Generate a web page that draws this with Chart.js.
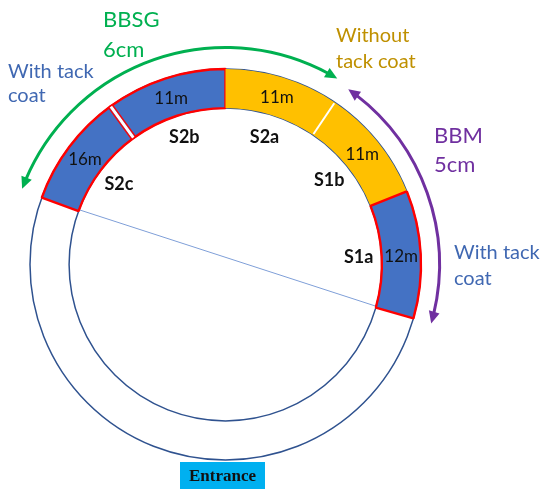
<!DOCTYPE html>
<html>
<head>
<meta charset="utf-8">
<script src="https://cdn.jsdelivr.net/npm/chart.js@4.4.1/dist/chart.umd.min.js"></script>
<style>
  html, body { margin: 0; padding: 0; background: #fff; }
</style>
</head>
<body>
<canvas id="ringChart" width="542" height="489"></canvas>
<script>
// sections of the ring, from the left end going clockwise
const sections = ['S2c', 'S2b', 'S2a', 'S1b', 'S1a'];
const lengths = ['16m', '11m', '11m', '11m', '12m'];
const arcDegrees = [34, 36, 34, 34, 38];
const tackCoat = [true, true, false, false, true];

const restDegrees = 360 - arcDegrees.reduce((a, b) => a + b, 0);

const BLUE = '#4472C4';
const ORANGE = '#FFC000';
const RED = '#FF0000';

const fills = tackCoat.map(t => t ? BLUE : ORANGE);
const borders = tackCoat.map(t => t ? RED : ORANGE);
const borderWidths = tackCoat.map(t => t ? 2.4 : 0);

function deg(a) { return a * Math.PI / 180; }

// math angle (ccw, y up) -> point
function polar(cx, cy, r, a) {
    return { x: cx + r * Math.cos(deg(a)), y: cy - r * Math.sin(deg(a)) };
}

function arcArrow(ctx, cx, cy, r, fromA, toA, color) {
    // fromA > toA (math degrees), drawn clockwise on screen
    const head = 12, half = 5.5;
    const d = head / r * 180 / Math.PI;
    ctx.save();
    ctx.strokeStyle = color;
    ctx.fillStyle = color;
    ctx.lineWidth = 3;
    ctx.beginPath();
    ctx.arc(cx, cy, r, deg(-(fromA - d * 0.8)), deg(-(toA + d * 0.8)), false);
    ctx.stroke();
    [[fromA, 1], [toA, -1]].forEach(([a, s]) => {
        const tip = polar(cx, cy, r, a);
        const base = polar(cx, cy, r, a - s * d);
        const nx = Math.cos(deg(a)), ny = -Math.sin(deg(a));
        ctx.beginPath();
        ctx.moveTo(tip.x, tip.y);
        ctx.lineTo(base.x + nx * half, base.y + ny * half);
        ctx.lineTo(base.x - nx * half, base.y - ny * half);
        ctx.closePath();
        ctx.fill();
    });
    ctx.restore();
}

function text(ctx, str, x, y, font, color, align) {
    ctx.font = font;
    ctx.fillStyle = color;
    ctx.textAlign = align || 'left';
    ctx.fillText(str, x, y);
}

const ringDecor = {
    id: 'ringDecor',
    beforeDatasetsDraw(chart) {
        const ctx = chart.ctx;
        const arcs = chart.getDatasetMeta(0).data;
        const cx = arcs[0].x, cy = arcs[0].y;
        const ro = arcs[0].outerRadius, ri = arcs[0].innerRadius;
        ctx.save();
        // diagonal through the ring ends
        const p1 = { x: cx + ro * Math.cos(arcs[0].startAngle), y: cy + ro * Math.sin(arcs[0].startAngle) };
        const p2 = { x: cx + ro * Math.cos(arcs[4].endAngle), y: cy + ro * Math.sin(arcs[4].endAngle) };
        ctx.strokeStyle = '#7F9FD8';
        ctx.lineWidth = 1;
        ctx.beginPath();
        ctx.moveTo(p1.x, p1.y);
        ctx.lineTo(p2.x, p2.y);
        ctx.stroke();
        // outer and inner circles
        ctx.strokeStyle = '#2F528F';
        ctx.lineWidth = 1.5;
        [ro, ri].forEach(r => {
            ctx.beginPath();
            ctx.arc(cx, cy, r, 0, Math.PI * 2);
            ctx.stroke();
        });
        ctx.restore();
    },
    afterDatasetsDraw(chart) {
        const ctx = chart.ctx;
        const arcs = chart.getDatasetMeta(0).data;
        const cx = arcs[0].x, cy = arcs[0].y;
        const ro = arcs[0].outerRadius, ri = arcs[0].innerRadius;
        ctx.save();

        // white joint between the two orange pieces
        const a1 = arcs[2].endAngle;
        ctx.strokeStyle = '#fff';
        ctx.lineWidth = 2;
        ctx.beginPath();
        ctx.moveTo(cx + (ri + 1) * Math.cos(a1), cy + (ri + 1) * Math.sin(a1));
        ctx.lineTo(cx + (ro - 1) * Math.cos(a1), cy + (ro - 1) * Math.sin(a1));
        ctx.stroke();

        // gap between S2c and S2b
        const a0 = arcs[0].endAngle;
        const tx = -Math.sin(a0), ty = Math.cos(a0);
        [[0, '#fff', 3], [2.4, RED, 1.3], [-2.4, RED, 1.3]].forEach(([off, col, w]) => {
            ctx.strokeStyle = col;
            ctx.lineWidth = w;
            ctx.beginPath();
            ctx.moveTo(cx + (ri + 0.5) * Math.cos(a0) + tx * off, cy + (ri + 0.5) * Math.sin(a0) + ty * off);
            ctx.lineTo(cx + (ro - 0.5) * Math.cos(a0) + tx * off, cy + (ro - 0.5) * Math.sin(a0) + ty * off);
            ctx.stroke();
        });

        // lengths inside the ring, section names inside the circle
        ctx.textBaseline = 'middle';
        arcs.slice(0, sections.length).forEach((el, i) => {
            const c = el.getCenterPoint();
            text(ctx, lengths[i], c.x, c.y + 1, '17px Lato', '#111', 'center');
            const mid = (el.startAngle + el.endAngle) / 2;
            const r = ri - 23;
            text(ctx, sections[i], cx + r * Math.cos(mid), cy + r * Math.sin(mid), 'bold 18px Lato', '#111', 'center');
        });

        // annotations
        ctx.textBaseline = 'alphabetic';
        text(ctx, 'BBSG', 103, 27, '22px Lato', '#00B050');
        text(ctx, '6cm', 103, 57, '22px Lato', '#00B050');
        text(ctx, 'With tack', 8, 78, '20px Lato', '#4068B2');
        text(ctx, 'coat', 8, 102, '20px Lato', '#4068B2');
        text(ctx, 'Without', 336, 42, '20px Lato', '#BF9000');
        text(ctx, 'tack coat', 336, 68, '20px Lato', '#BF9000');
        text(ctx, 'BBM', 434, 143, '22px Lato', '#7030A0');
        text(ctx, '5cm', 434, 172, '22px Lato', '#7030A0');
        text(ctx, 'With tack', 454, 259, '20px Lato', '#4068B2');
        text(ctx, 'coat', 454, 285, '20px Lato', '#4068B2');

        arcArrow(ctx, cx, cy, 217, 159.6, 59, '#00B050');
        arcArrow(ctx, cx, cy, 214, 55, -16, '#7030A0');

        // entrance box
        ctx.fillStyle = '#00B0F0';
        ctx.fillRect(180, 462, 85, 30);
        ctx.textBaseline = 'middle';
        text(ctx, 'Entrance', 222.5, 477, 'bold 17px "Liberation Serif"', '#111', 'center');
        ctx.restore();
    }
};

new Chart(document.getElementById('ringChart'), {
    type: 'doughnut',
    data: {
        labels: [...sections, ''],
        datasets: [{
            data: [...arcDegrees, restDegrees],
            backgroundColor: [...fills, 'rgba(0,0,0,0)'],
            borderColor: [...borders, 'rgba(0,0,0,0)'],
            borderWidth: [...borderWidths, 0]
        }]
    },
    options: {
        responsive: false,
        animation: false,
        events: [],
        rotation: -70,
        circumference: 360,
        radius: 195.5,
        cutout: '80%',
        layout: {
            padding: { left: 0, right: 91, top: 40, bottom: 0 }
        },
        plugins: {
            legend: { display: false },
            tooltip: { enabled: false }
        }
    },
    plugins: [ringDecor]
});
</script>
</body>
</html>
